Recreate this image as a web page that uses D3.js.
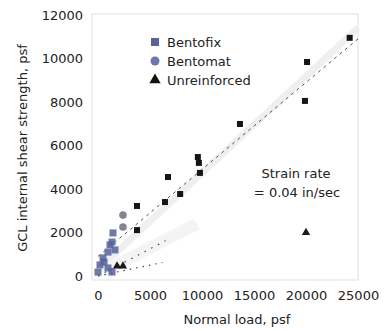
<!DOCTYPE html>
<html>
<head>
<meta charset="utf-8">
<script src="https://cdn.jsdelivr.net/npm/d3@7"></script>
<style>
  body { margin: 0; background: #fff; }
  text { font-family: "DejaVu Sans", sans-serif; fill: #222; }
</style>
</head>
<body>
<div class="chart"></div>
<script>
var svgWidth = 385;
var svgHeight = 331;

// data (normal load, shear strength in psf)
var bentofixLoad     = [0, 190, 480, 580, 960, 960, 1150, 1350, 1350, 1440, 1630];
var bentofixStrength = [180, 510, 830, 640, 1100, 370, 1430, 1560, 180, 1980, 1200];

var bentofixHighLoad     = [3750, 3750, 6440, 6730, 7900, 9600, 9700, 9800, 13650, 19900, 20100, 24200];
var bentofixHighStrength = [2110, 3220, 3400, 4550, 3770, 5470, 5200, 4740, 6990, 8050, 9840, 10950];

var bentomatLoad     = [2400, 2400];
var bentomatStrength = [2800, 2250];

var unreinforcedLoad     = [1830, 2400, 20000];
var unreinforcedStrength = [460, 460, 2000];

var xTicks = [0, 5000, 10000, 15000, 20000, 25000];
var yTicks = [0, 2000, 4000, 6000, 8000, 10000, 12000];

var legendNames = ["Bentofix", "Bentomat", "Unreinforced"];

var svg = d3.select(".chart")
  .append("svg")
  .attr("width", svgWidth)
  .attr("height", svgHeight);

var x = d3.scaleLinear().domain([0, 25000]).range([98, 358]);
var y = d3.scaleLinear().domain([0, 12000]).range([276, 15]);

// faint frame
svg.append("rect")
  .attr("x", 92).attr("y", 14)
  .attr("width", 266).attr("height", 266)
  .attr("fill", "none")
  .attr("stroke", "#e0e0e0");

// axes (labels only)
var bottomAxis = d3.axisBottom(x).tickValues(xTicks).tickSize(0).tickPadding(11).tickFormat(d3.format("d"));
var leftAxis = d3.axisLeft(y).tickValues(yTicks).tickSize(0).tickPadding(9).tickFormat(d3.format("d"));

var gx = svg.append("g").attr("transform", "translate(0,280)").call(bottomAxis);
var gy = svg.append("g").attr("transform", "translate(92,0)").call(leftAxis);
[gx, gy].forEach(function(g) {
  g.select(".domain").remove();
  g.selectAll("text")
    .style("font-family", "DejaVu Sans, sans-serif")
    .style("font-size", "13px")
    .attr("fill", "#222");
});

// shaded bands
var band = d3.line().x(d => x(d[0])).y(d => y(d[1]));
svg.append("path")
  .attr("d", band([[0, 300], [25000, 11400]]))
  .attr("stroke", "#efefef").attr("stroke-width", 7).attr("fill", "none");
svg.append("path")
  .attr("d", band([[500, 200], [9500, 2400]]))
  .attr("stroke", "#f4f4f4").attr("stroke-width", 12).attr("fill", "none");

// fitted line
svg.append("path")
  .attr("d", band([[0, 900], [25000, 10900]]))
  .attr("stroke", "#555").attr("stroke-width", 1)
  .attr("stroke-dasharray", "3,4").attr("fill", "none");

// unreinforced dotted trends
svg.append("path")
  .attr("d", band([[0, 0], [6500, 1620]]))
  .attr("stroke", "#444").attr("stroke-width", 1.2)
  .attr("stroke-dasharray", "1.5,6").attr("fill", "none");
svg.append("path")
  .attr("d", band([[0, 0], [6200, 620]]))
  .attr("stroke", "#444").attr("stroke-width", 1.2)
  .attr("stroke-dasharray", "1.5,5").attr("fill", "none");

// points
var bentofix = bentofixLoad.map((d, i) => [d, bentofixStrength[i]]);
var bentofixHigh = bentofixHighLoad.map((d, i) => [d, bentofixHighStrength[i]]);
var bentomat = bentomatLoad.map((d, i) => [d, bentomatStrength[i]]);
var unreinforced = unreinforcedLoad.map((d, i) => [d, unreinforcedStrength[i]]);

svg.selectAll(".bfx")
  .data(bentofix)
  .enter()
  .append("rect")
  .attr("x", d => x(d[0]) - 3.5)
  .attr("y", d => y(d[1]) - 3.5)
  .attr("width", 7).attr("height", 7)
  .attr("fill", "#55609a")
  .attr("opacity", 0.85);

svg.selectAll(".bfxh")
  .data(bentofixHigh)
  .enter()
  .append("rect")
  .attr("x", d => x(d[0]) - 3)
  .attr("y", d => y(d[1]) - 3)
  .attr("width", 6).attr("height", 6)
  .attr("fill", "#151515");

svg.selectAll(".bmt")
  .data(bentomat)
  .enter()
  .append("circle")
  .attr("cx", d => x(d[0]))
  .attr("cy", d => y(d[1]))
  .attr("r", 3.8)
  .attr("fill", "#858590");

var tri = d3.symbol().type(d3.symbolTriangle).size(30);
svg.selectAll(".unr")
  .data(unreinforced)
  .enter()
  .append("path")
  .attr("d", tri)
  .attr("transform", d => `translate(${x(d[0])},${y(d[1])})`)
  .attr("fill", "#1a1a1a");

// legend
var legend = svg.append("g");
legendNames.forEach(function(name, i) {
  var ly = 42 + i * 19;
  if (i === 0) {
    legend.append("rect").attr("x", 151).attr("y", ly - 4).attr("width", 8).attr("height", 8).attr("fill", "#5a6499");
  } else if (i === 1) {
    legend.append("circle").attr("cx", 155).attr("cy", ly).attr("r", 4.5).attr("fill", "#6b78a8");
  } else {
    legend.append("path").attr("d", d3.symbol().type(d3.symbolTriangle).size(55)).attr("transform", `translate(155,${ly})`).attr("fill", "#111");
  }
  legend.append("text")
    .attr("x", 167).attr("y", ly + 5)
    .style("font-size", "13px")
    .text(name);
});

// strain rate note
svg.append("text")
  .attr("x", 296).attr("y", 178)
  .attr("text-anchor", "middle")
  .style("font-size", "13px")
  .text("Strain rate");
svg.append("text")
  .attr("x", 297).attr("y", 197)
  .attr("text-anchor", "middle")
  .style("font-size", "13px")
  .text("= 0.04 in/sec");

// axis titles
svg.append("text")
  .attr("x", 237).attr("y", 324)
  .attr("text-anchor", "middle")
  .style("font-size", "13px")
  .text("Normal load, psf");

svg.append("text")
  .attr("transform", "translate(27,148) rotate(-90)")
  .attr("text-anchor", "middle")
  .style("font-size", "13px")
  .text("GCL internal shear strength, psf");
</script>
</body>
</html>
